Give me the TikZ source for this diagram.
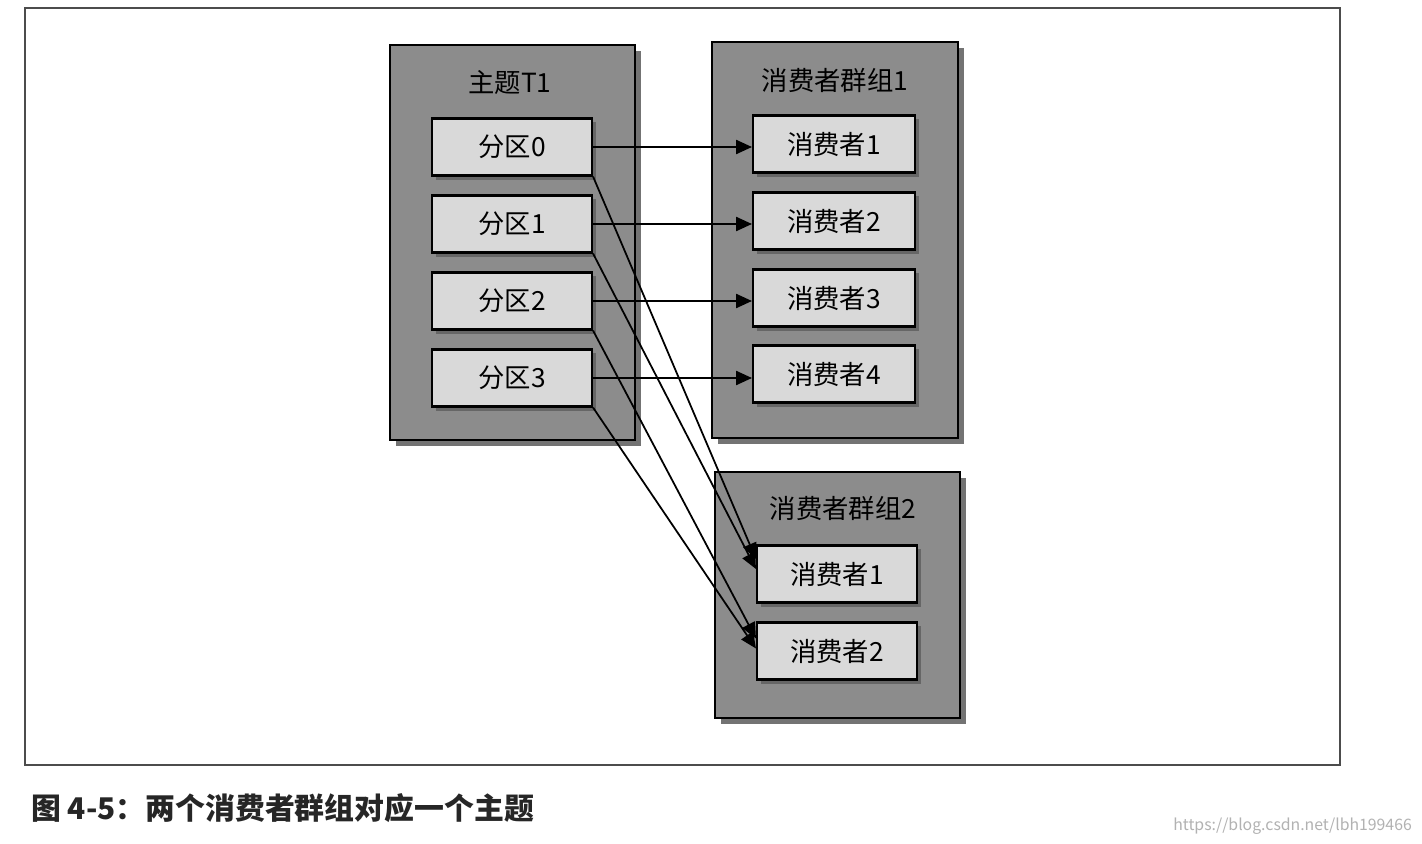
\documentclass[tikz,border=0pt]{standalone}
\usepackage{fontspec}
\newfontfamily\cjk{Noto Sans CJK SC}
\usetikzlibrary{arrows.meta}
\definecolor{big}{HTML}{8C8C8C}
\definecolor{small}{HTML}{D9D9D9}
\begin{document}
\begin{tikzpicture}[x=0.02cm,y=-0.02cm,
  bigbox/.style={draw=black,line width=1.2pt,fill=big},
  inbox/.style={draw=black,line width=1.2pt,fill=small,inner sep=0pt,font=\cjk\fontsize{15}{17}\selectfont},
  shade/.style={fill=black!55},
  lbl/.style={font=\cjk\fontsize{15}{17}\selectfont},
  arr/.style={line width=1pt,-{Triangle[length=9pt,width=8pt]}}]
\useasboundingbox (0,0) rectangle (1422,844);
\fill[white] (0,0) rectangle (1422,844);
\draw[line width=0.8pt,black!70] (25,8) rectangle (1340,765);
% big boxes with shadows
\fill[shade] (396,51) rectangle (641,446);
\draw[bigbox] (390,45) rectangle (635,440);
\fill[shade] (718,48) rectangle (964,444);
\draw[bigbox] (712,42) rectangle (958,438);
\fill[shade] (721,478) rectangle (966,724);
\draw[bigbox] (715,472) rectangle (960,718);
\node[lbl] (t1) at (510,83) {主题T1};
\node[lbl] (g1) at (835,80) {消费者群组1};
\node[lbl] (g2) at (843,508) {消费者群组2};
% partitions
\foreach \n/\y/\t in {p0/147/分区0,p1/224/分区1,p2/301/分区2,p3/378/分区3}{
  \fill[black!60] (436,\y-25) rectangle (596,\y+33);
  \node[inbox,minimum width=160*0.02cm,minimum height=57*0.02cm] (\n) at (512,\y) {\t};
}
\foreach \n/\y/\t in {a1/144/消费者1,a2/221/消费者2,a3/298/消费者3,a4/374/消费者4,b1/574/消费者1,b2/651/消费者2}{
  \fill[black!60] (\ifdim\y pt>500pt 761\else 757\fi,\y-25) rectangle (\ifdim\y pt>500pt 921\else 919\fi,\y+33);
}
\foreach \n/\y/\t in {a1/144/消费者1,a2/221/消费者2,a3/298/消费者3,a4/374/消费者4}{
  \node[inbox,minimum width=162*0.02cm,minimum height=57*0.02cm] (\n) at (834,\y) {\t};
}
\foreach \n/\y/\t in {b1/574/消费者1,b2/651/消费者2}{
  \node[inbox,minimum width=160*0.02cm,minimum height=57*0.02cm] (\n) at (837,\y) {\t};
}
\draw[arr] (p0.east) -- (a1.west |- p0.east);
\draw[arr] (p1.east) -- (a2.west |- p1.east);
\draw[arr] (p2.east) -- (a3.west |- p2.east);
\draw[arr] (p3.east) -- (a4.west |- p3.east);
\draw[arr] (p0.south east) -- ([yshift=0.3cm]b1.west);
\draw[arr] (p1.south east) -- ([yshift=0.1cm]b1.west);
\draw[arr] (p2.south east) -- ([yshift=0.25cm]b2.west);
\draw[arr] (p3.south east) -- ([yshift=0.05cm]b2.west);
\node[anchor=west,font=\cjk\bfseries\fontsize{17}{20}\selectfont,text=black!85] (cap) at (25,808) {图 4-5：两个消费者群组对应一个主题};
\node[anchor=east,font=\cjk\fontsize{9}{11}\selectfont,text=black!30] (wm) at (1418,826) {https://blog.csdn.net/lbh199466};
\end{tikzpicture}
\end{document}
